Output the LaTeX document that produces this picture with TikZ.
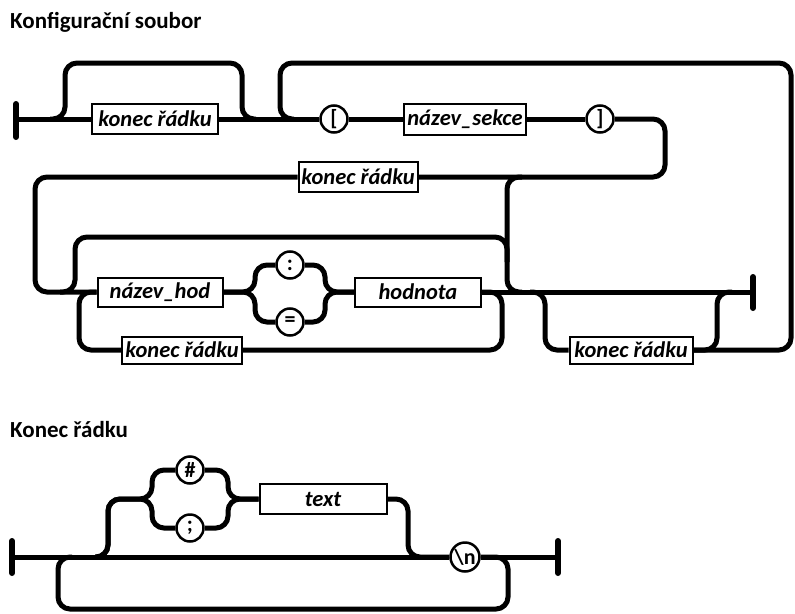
\documentclass[tikz,border=0pt]{standalone}
\usepackage{fontspec}
\setmainfont{Carlito}
\usetikzlibrary{backgrounds}
\tikzset{
  rail/.style={line width=5pt, rounded corners=12pt},
  box/.style={draw=black, line width=2pt, fill=white, inner sep=0pt,
    font=\fontsize{22.5}{24}\selectfont\bfseries\itshape},
  term/.style={circle, draw=black, line width=2.5pt, fill=white, inner sep=0pt,
    minimum size=27pt, font=\fontsize{22}{22}\selectfont\bfseries},
  endbar/.style={line width=6pt, line cap=round},
  title/.style={anchor=base west, inner sep=0pt,
    font=\fontsize{23}{25}\selectfont\bfseries}
}
\begin{document}
\begin{tikzpicture}[x=1pt,y=-1pt]
\useasboundingbox (0,0) rectangle (795,613);

% titles
\node[title] (t1) at (10,28) {Konfigurační soubor};
\node[title] (t2) at (10,437) {Konec řádku};

% ---------- first diagram ----------
\coordinate (s1) at (16,119);
\coordinate (e1) at (753,292);
\node[box, minimum width=126pt, minimum height=30pt] (kr1) at (155,119) {konec řádku};
\node[term] (lb) at (334,119) {[};
\node[box, minimum width=122pt, minimum height=31pt] (ns) at (465,119) {název\_sekce};
\node[term] (rb) at (600,119) {]};
\node[box, minimum width=119pt, minimum height=30pt] (kr2) at (358,177) {konec řádku};
\node[box, minimum width=125pt, minimum height=29pt] (nh) at (160,292) {název\_hod};
\node[term] (colon) at (290,265) {:};
\node[term] (eq) at (290,322) {=};
\node[box, minimum width=126pt, minimum height=29pt] (hod) at (418,292) {hodnota};
\node[box, minimum width=120pt, minimum height=27pt] (kr3) at (182,350) {konec řádku};
\node[box, minimum width=123pt, minimum height=27pt] (kr4) at (631,350) {konec řádku};

% ---------- second diagram ----------
\coordinate (s2) at (12,557);
\coordinate (e2) at (558,557);
\node[term] (hash) at (190,470) {\#};
\node[term] (semi) at (190,528) {;};
\node[box, minimum width=127pt, minimum height=30pt] (txt) at (323,499) {text};
\node[term, minimum size=29pt] (nl) at (465,557) {\textbackslash n};

\begin{scope}[on background layer]
\fill[white] (0,0) rectangle (795,613);

\draw[endbar] (s1) ++(0,-15) -- ++(0,33);
\draw[endbar] (e1) ++(0,-15) -- ++(0,31);

\draw[rail] (s1) -- (kr1.west);
\draw[rail] (kr1.east) -- (lb.west);
\draw[rail] (lb.east) -- (ns.west);
\draw[rail] (ns.east) -- (rb.west);
\draw[rail] (rb.east) -| (665,177) -- (kr2.east);
\draw[rail] (kr2.west) -| (35,292) -- (nh.west);
% bypass of first konec radku
\draw[rail] (50,119) -| (65,63) -| (242,119) -- (256,119);
% big loop back to section start
\draw[rail] (kr4.east) -| (791,63) -| (280,119) -- (294,119);
% skip from section line to end
\draw[rail] (522,177) -| (507,292) -- (522,292);
% skip of key/value
\draw[rail] (60,292) -| (75,237) -| (507,262);
% choice : =
\draw[rail] (nh.east) -| (255,265) -- (colon.west);
\draw[rail] (nh.east) -| (255,322) -- (eq.west);
\draw[rail] (colon.east) -| (325,292) -- (hod.west);
\draw[rail] (eq.east) -| (325,292) -- (hod.west);
\draw[rail] (hod.east) -- (e1);
% repeat key/value
\draw[rail] (hod.east) -| (502,350) -- (kr3.east);
\draw[rail] (kr3.west) -| (79,292) -- (nh.west);
% trailing konec radku
\draw[rail] (530,292) -| (545,350) -- (kr4.west);
\draw[rail] (kr4.east) -| (717,292) -- (732,292);

% second diagram connectors
\draw[endbar] (s2) ++(0,-16) -- ++(0,32);
\draw[endbar] (e2) ++(0,-16) -- ++(0,32);
\draw[rail] (s2) -- (nl.west);
\draw[rail] (nl.east) -- (e2);
\draw[rail] (95,557) -| (108,499) -| (152,470) -- (hash.west);
\draw[rail] (95,557) -| (108,499) -| (152,528) -- (semi.west);
\draw[rail] (hash.east) -| (228,499) -- (txt.west);
\draw[rail] (semi.east) -| (228,499) -- (txt.west);
\draw[rail] (txt.east) -| (408,557) -- (nl.west);
\draw[rail] (nl.east) -| (508,609) -| (58,557) -- (72,557);
\end{scope}
\end{tikzpicture}
\end{document}
